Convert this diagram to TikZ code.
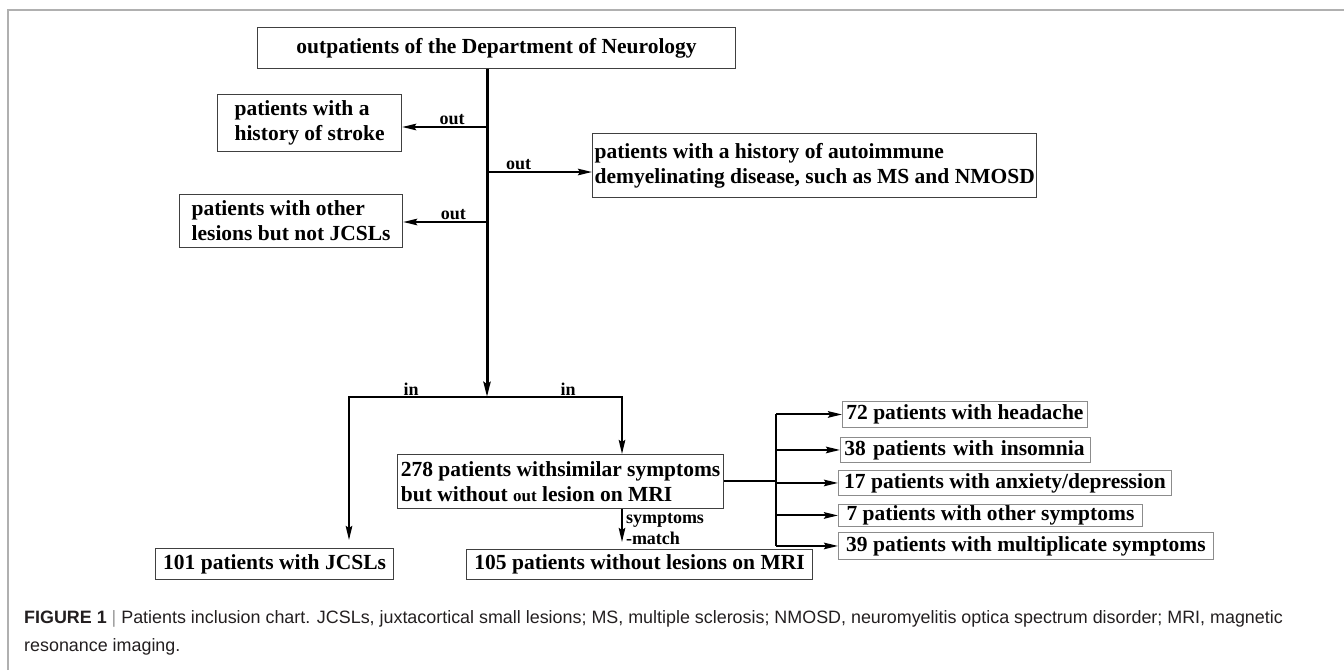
\documentclass[tikz,border=0pt]{standalone}
\usepackage{fontspec}
\setmainfont{Liberation Serif}
\newfontfamily\capfont{Liberation Sans}
\usetikzlibrary{arrows.meta,positioning}

\newcommand{\boxfont}{\fontsize{21.5}{25}\selectfont\bfseries}
\newcommand{\lblfont}{\fontsize{18}{21}\selectfont\bfseries}
\definecolor{framegray}{RGB}{176,176,176}
\definecolor{capgray}{RGB}{35,31,32}

\tikzset{
  box/.style={draw=black!75, line width=1.2pt, font=\boxfont, inner sep=2pt, anchor=north west},
  sbox/.style={draw=black!45, line width=0.9pt, font=\boxfont, inner sep=1pt, anchor=north west},
  lbl/.style={font=\lblfont, inner sep=1pt},
  line/.style={line width=2pt},
  arr/.style={line width=2pt, -{Stealth[length=14pt,width=6.5pt,inset=2pt]}},
  trunk/.style={line width=3pt, -{Stealth[length=15pt,width=7pt,inset=2pt]}}
}

\begin{document}
\begin{tikzpicture}[x=1pt,y=-1pt]
	\useasboundingbox (0,0) rectangle (1344,670);
	% frame of the figure
	\draw[framegray, line width=2pt] (8,670) -- (8,10) -- (1344,10);

	% boxes
	\node[box, minimum width=478, minimum height=41] (top) at (257,27) {outpatients of the Department of Neurology};
	\node[box, minimum width=184, minimum height=57, align=left] (stroke) at (217,94) {patients with a\\history of stroke};
	\node[box, minimum width=430, minimum height=64, align=left] (auto) at (592,133) {patients with a history of autoimmune\\demyelinating disease, such as MS and NMOSD};
	\node[box, minimum width=223, minimum height=53, align=left] (other) at (179,194) {patients with other\\lesions but not JCSLs};
	\node[box, minimum width=238, minimum height=31] (jcsl) at (155,548) {101 patients with JCSLs};
	\node[box, minimum width=326, minimum height=54, align=left] (sim) at (397,454) {278 patients withsimilar symptoms\\but without {\fontsize{17}{20}\selectfont out} lesion on MRI};
	\node[box, minimum width=346, minimum height=30] (nolesion) at (466,549) {105 patients without lesions on MRI};

	\node[sbox, minimum width=245, minimum height=26] (head) at (842,401) {72 patients with headache};
	\node[sbox, minimum width=250, minimum height=25, align=left, text width=242] (insom) at (840,437) {38 patients with insomnia};
	\node[sbox, minimum width=333, minimum height=25] (anx) at (838,470) {17 patients with anxiety/depression};
	\node[sbox, minimum width=304, minimum height=22] (oth) at (838,504) {7 patients with other symptoms};
	\node[sbox, minimum width=375, minimum height=27] (multi) at (838,532) {39 patients with multiplicate symptoms};

	% junctions
	\coordinate (split) at (487,397);
	\coordinate (j1) at (487,127);
	\coordinate (j2) at (487,172);
	\coordinate (j3) at (487,222);
	\coordinate (lft) at (349,397);
	\coordinate (rgt) at (622,397);
	\coordinate (fork) at (776,481);

	% connectors
	\draw[trunk] (top.south -| split) -- (split);
	\draw[arr] (j1) -- node[lbl, above, pos=0.41] (out1) {out} (j1 -| stroke.east);
	\draw[arr] (j2) -- node[lbl, above, pos=0.3] (out2) {out} (j2 -| auto.west);
	\draw[arr] (j3) -- node[lbl, above, pos=0.4] (out3) {out} (j3 -| other.east);
	\draw[arr, shorten >=8pt] (split) -- node[lbl, above, pos=0.55] (in1) {in} (lft) -- (lft |- jcsl.north);
	\draw[arr] (split) -- node[lbl, above, pos=0.6] (in2) {in} (rgt) -- (rgt |- sim.north);
	\draw[arr, shorten >=7pt] (sim.south -| rgt) -- node[lbl, right, align=left, xshift=2pt] (match) {symptoms\\-match} (nolesion.north -| rgt);

	\draw[line] (sim.east |- fork) -- (fork);
	\draw[line] (fork |- head.west) -- (fork |- multi.west);
	\foreach \n in {head,insom,anx,oth,multi}
		\draw[arr] (fork |- \n.west) -- (\n.west);

	% caption
	\node[anchor=north west, align=left, inner sep=0pt, text=capgray, font=\capfont\fontsize{17.9}{28}\selectfont] (cap) at (24,610)
		{\textbf{FIGURE 1} {\color{black!40}|} Patients inclusion chart. JCSLs, juxtacortical small lesions; MS, multiple sclerosis; NMOSD, neuromyelitis optica spectrum disorder; MRI, magnetic\\resonance imaging.};
\end{tikzpicture}
\end{document}
